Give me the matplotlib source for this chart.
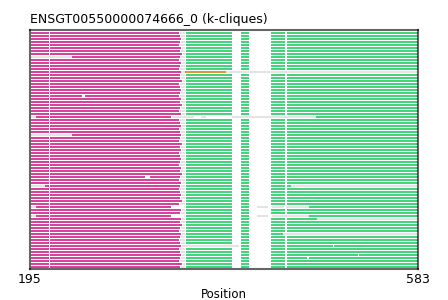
import numpy as np
import matplotlib
matplotlib.use("Agg")
import matplotlib.pyplot as plt


TITLE = "ENSGT00550000074666_0 (k-cliques)"
X_MIN, X_MAX = 195, 583
N_ROWS = 79

# fin del blocco magenta per ogni riga (letto a occhio)
MAGENTA_END = [
    344, 345, 346, 345, 344, 346, 345, 347, 345, 344,
    346, 345, 344, 346, 345, 345, 347, 344, 345, 346,
    345, 344, 346, 345, 347, 345, 344, 346, 345, 344,
    345, 346, 344, 345, 346, 345, 344, 347, 345, 346,
    344, 345, 346, 345, 344, 346, 345, 347, 345, 344,
    346, 345, 344, 345, 346, 345, 347, 344, 345, 346,
    345, 344, 346, 345, 347, 345, 344, 346, 345, 344,
    345, 346, 344, 345, 346, 345, 344, 347, 345,
]
MAGENTA_START = 196
DOT_GAP = (214, 215)
GRAY_END = 350
GREEN_BLOCKS = [(351, 397), (406, 414), (436, 450), (452, 583)]

# eccezioni: (riga, colore, inizio, fine); None = buco bianco
OVERLAYS = [
    (8, "gray", 196, 237),
    (13, "gray", 346, 583), (13, "orange", 350, 391),
    (21, None, 247, 250),
    (28, "gray", 196, 201), (28, None, 336, 481), (28, "gray", 337, 359),
    (28, "gray", 366, 371), (28, "gray", 397, 481),
    (34, "gray", 196, 237),
    (48, None, 310, 315),
    (51, "gray", 196, 210), (51, "gray", 456, 583),
    (58, "gray", 196, 201), (58, None, 336, 349), (58, None, 414, 474),
    (58, "gray", 422, 433), (58, "gray", 437, 449), (58, "gray", 451, 474),
    (61, "gray", 196, 201), (61, None, 336, 349), (61, None, 414, 474),
    (61, "gray", 422, 433), (61, "gray", 437, 449), (61, "gray", 449, 474),
    (62, "gray", 482, 583),
    (67, "gray", 448, 583),
    (71, "gray", 350, 404), (71, None, 498, 499),
    (74, None, 523, 524),
    (75, None, 472, 474),
]

COLORS = {
    "magenta": "#d6459b",
    "green": "#47d27e",
    "gray": "#e4e4e4",
    "orange": "#d99a3e",
}


def apply_overlay(segs, start, end, color):
    # taglia i segmenti esistenti e inserisce quello nuovo
    out = []
    for s, e, c in segs:
        if e <= start or s >= end:
            out.append((s, e, c))
            continue
        if s < start:
            out.append((s, start, c))
        if e > end:
            out.append((end, e, c))
    if color is not None:
        out.append((start, end, color))
    return out


rows = []
for i in range(N_ROWS):
    m_end = MAGENTA_END[i]
    segs = [
        (MAGENTA_START, DOT_GAP[0], "magenta"),
        (DOT_GAP[1], m_end, "magenta"),
        (m_end + 1, GRAY_END, "gray"),
    ]
    segs += [(s, e, "green") for s, e in GREEN_BLOCKS]
    for r, c, s, e in OVERLAYS:
        if r == i:
            segs = apply_overlay(segs, s, e, c)
    rows.append(segs)

# 3 px per riga: asse alto 239 px
fig = plt.figure(figsize=(4.48, 3.0), dpi=100)
ax = fig.add_axes([30 / 448, 31 / 300, 388 / 448, 239 / 300])

for i, segs in enumerate(rows):
    for s, e, c in segs:
        ax.barh(i, e - s, left=s, height=2 / 3, color=COLORS[c], linewidth=0)

ax.set_xlim(X_MIN, X_MAX)
ax.set_ylim(-1 + 239 / 3, -1)
ax.set_yticks([])
ax.set_xticks([X_MIN, X_MAX])
ax.tick_params(axis="x", length=0, labelsize=9, pad=3)
ax.set_xlabel("Position", fontsize=8.5, labelpad=1)
ax.set_title(TITLE, loc="left", fontsize=9, pad=5)

for sp in ax.spines.values():
    sp.set_color("black")
    sp.set_alpha(0.6)
    sp.set_linewidth(1.5)
    sp.set_zorder(3)

fig.savefig("out.png", dpi=100)
